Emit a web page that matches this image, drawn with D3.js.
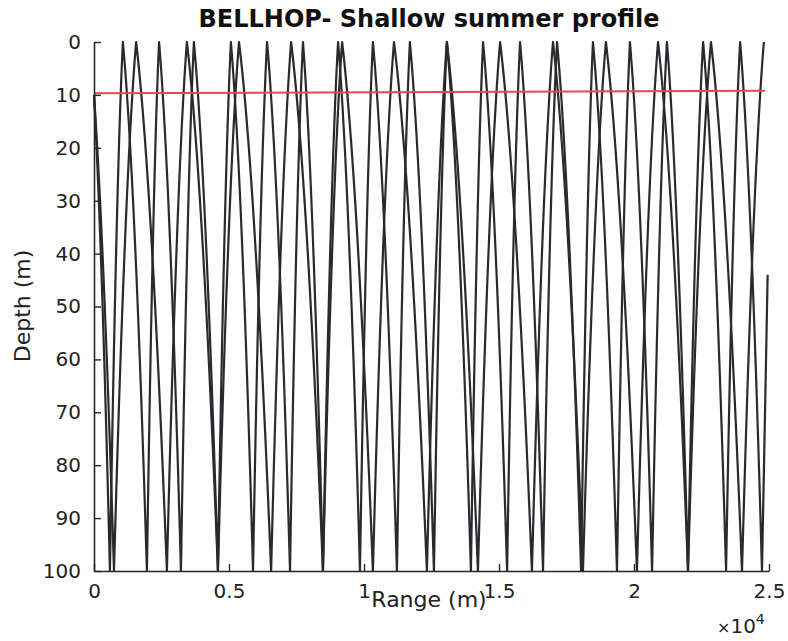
<!DOCTYPE html>
<html>
<head>
<meta charset="utf-8">
<script src="https://cdn.jsdelivr.net/npm/d3@7"></script>
<style>
  body { margin: 0; background: #fff; }
  text { font-family: "DejaVu Sans", "Liberation Sans", sans-serif; fill: #222; }
</style>
</head>
<body>
<svg id="chart" width="788" height="641"></svg>
<script>
// ---- data -------------------------------------------------------------
const chartTitle = "BELLHOP- Shallow summer profile";
const xLabel = "Range (m)";
const yLabel = "Depth (m)";
const depthTicks = [0, 10, 20, 30, 40, 50, 60, 70, 80, 90, 100];
const rangeTicks = [0, 5000, 10000, 15000, 20000, 25000];
const rangeTickLabels = ["0", "0.5", "1", "1.5", "2", "2.5"];
const rangeExponent = "4";

const waterDepth = 100;     // m
const maxRange = 25000;     // m
const sourceDepth = 10;     // m

// Ray turning points (m): first entry is a bottom bounce, then surface/bottom alternate
const ray1Turns = [590, 1070, 1960, 2410, 3220, 3700, 4590, 5070, 5890, 6410,
                   7260, 7740, 8480, 9040, 9850, 10330, 11220, 11700, 12590, 13070,
                   13960, 14410, 15300, 15780, 16630, 17150, 18040, 18480, 19370, 19850,
                   20670, 21220, 22000, 22560, 23410, 23930, 24740];
const ray1End = [24950, 44];   // range, depth where the trace stops

const ray2Turns = [740, 1560, 2700, 3440, 4590, 5370, 6560, 7300, 8480, 9190,
                   10330, 11110, 12330, 13070, 14220, 15040, 16220, 17000, 18110, 18960,
                   20110, 20890, 22000, 22850, 24000, 24810];
const ray2End = null;          // trace stops at its last surface bounce

// receiver-depth marker
const markerRange = [0, 24850];
const markerDepth = [9.7, 9.2];

// ---- layout -----------------------------------------------------------
const svg = d3.select("#chart");
const x = d3.scaleLinear().domain([0, maxRange]).range([94, 769]);
const y = d3.scaleLinear().domain([0, waterDepth]).range([42, 571]);

// Each arc between surface and bottom bends downward: shallower at the
// surface end, steeper at the bottom end (normalised depth vs range).
const SURF_SLOPE = 0.5;
const arcZ = f => SURF_SLOPE * f + (1 - SURF_SLOPE) * f * f;
const arcDZ = f => SURF_SLOPE + 2 * (1 - SURF_SLOPE) * f;
const arcF = z => (-SURF_SLOPE + Math.sqrt(SURF_SLOPE * SURF_SLOPE + 4 * (1 - SURF_SLOPE) * z))
                  / (2 * (1 - SURF_SLOPE));

function rayVertices(turns, end) {
  const v = [{ r: 0, z: sourceDepth }];
  turns.forEach((r, i) => v.push({ r, z: i % 2 === 0 ? waterDepth : 0 }));
  if (end) v.push({ r: end[0], z: end[1] });
  return v;
}

function rayPath(verts) {
  const p = d3.path();
  p.moveTo(x(verts[0].r), y(verts[0].z));
  for (let i = 0; i < verts.length - 1; i++) {
    const a = verts[i], b = verts[i + 1];
    let rs, rb;                       // ranges of the arc's surface and bottom ends
    const onSurf = q => q.z === 0, onBot = q => q.z === waterDepth;
    if ((onSurf(a) && onBot(b)) || (onBot(a) && onSurf(b))) {
      rs = onSurf(a) ? a.r : b.r;
      rb = onBot(a) ? a.r : b.r;
    } else if (onBot(a) || onBot(b)) {
      const bot = onBot(a) ? a : b, mid = onBot(a) ? b : a;
      const fm = arcF(mid.z / waterDepth);
      rb = bot.r;
      rs = (mid.r - fm * rb) / (1 - fm);
    } else {
      const sur = onSurf(a) ? a : b, mid = onSurf(a) ? b : a;
      const fm = arcF(mid.z / waterDepth);
      rs = sur.r;
      rb = rs + (mid.r - rs) / fm;
    }
    const fOf = r => (r - rs) / (rb - rs);
    const f1 = fOf(a.r), f2 = fOf(b.r);
    const fc = (f1 + f2) / 2;
    const zc = arcZ(f1) + arcDZ(f1) * (f2 - f1) / 2;
    const rc = rs + fc * (rb - rs);
    p.quadraticCurveTo(x(rc), y(zc * waterDepth), x(b.r), y(b.z));
  }
  return p.toString();
}

// ---- rays ---------------------------------------------------------------
const rays = [rayVertices(ray1Turns, ray1End), rayVertices(ray2Turns, ray2End)];
svg.append("g")
  .selectAll("path")
  .data(rays)
  .join("path")
  .attr("d", rayPath)
  .attr("fill", "none")
  .attr("stroke", "#2a2a2e")
  .attr("stroke-width", 2.2)
  .attr("stroke-linejoin", "round");

// receiver depth marker
svg.append("path")
  .datum(d3.zip(markerRange, markerDepth))
  .attr("d", d3.line().x(d => x(d[0])).y(d => y(d[1])))
  .attr("fill", "none")
  .attr("stroke", "#e24a52")
  .attr("stroke-width", 2);

// ---- axes ---------------------------------------------------------------
const axisColor = "#262626";
const yAxis = svg.append("g")
  .attr("transform", `translate(${x(0)},0)`)
  .call(d3.axisLeft(y).tickValues(depthTicks).tickSizeInner(-7).tickSizeOuter(0).tickPadding(13));
const xAxis = svg.append("g")
  .attr("transform", `translate(0,${y(waterDepth)})`)
  .call(d3.axisBottom(x).tickValues(rangeTicks)
        .tickFormat((d, i) => rangeTickLabels[i])
        .tickSizeInner(-7).tickSizeOuter(0).tickPadding(13));

[xAxis, yAxis].forEach(g => {
  g.attr("font-family", null).attr("font-size", null);
  g.select(".domain").attr("stroke", axisColor).attr("stroke-width", 1.6);
  g.selectAll(".tick line").attr("stroke", axisColor).attr("stroke-width", 1.4);
  g.selectAll(".tick text").style("font-size", "20px").attr("fill", axisColor);
});

// exponent for the range axis
const expo = svg.append("text")
  .attr("x", 717).attr("y", 633);
expo.append("tspan").style("font-size", "16px").text("\u00d7");
expo.append("tspan").style("font-size", "20px").text("10");
expo.append("tspan").style("font-size", "14px").attr("dy", -9).text(rangeExponent);

// ---- titles ----------------------------------------------------------------
svg.append("text")
  .attr("x", 429).attr("y", 27)
  .attr("text-anchor", "middle")
  .style("font-size", "24px").style("font-weight", "bold").style("fill", "#111")
  .text(chartTitle);

svg.append("text")
  .attr("x", 429).attr("y", 607)
  .attr("text-anchor", "middle")
  .style("font-size", "22px")
  .text(xLabel);

svg.append("text")
  .attr("transform", "translate(30,306) rotate(-90)")
  .attr("text-anchor", "middle")
  .style("font-size", "22px")
  .text(yLabel);
</script>
</body>
</html>
